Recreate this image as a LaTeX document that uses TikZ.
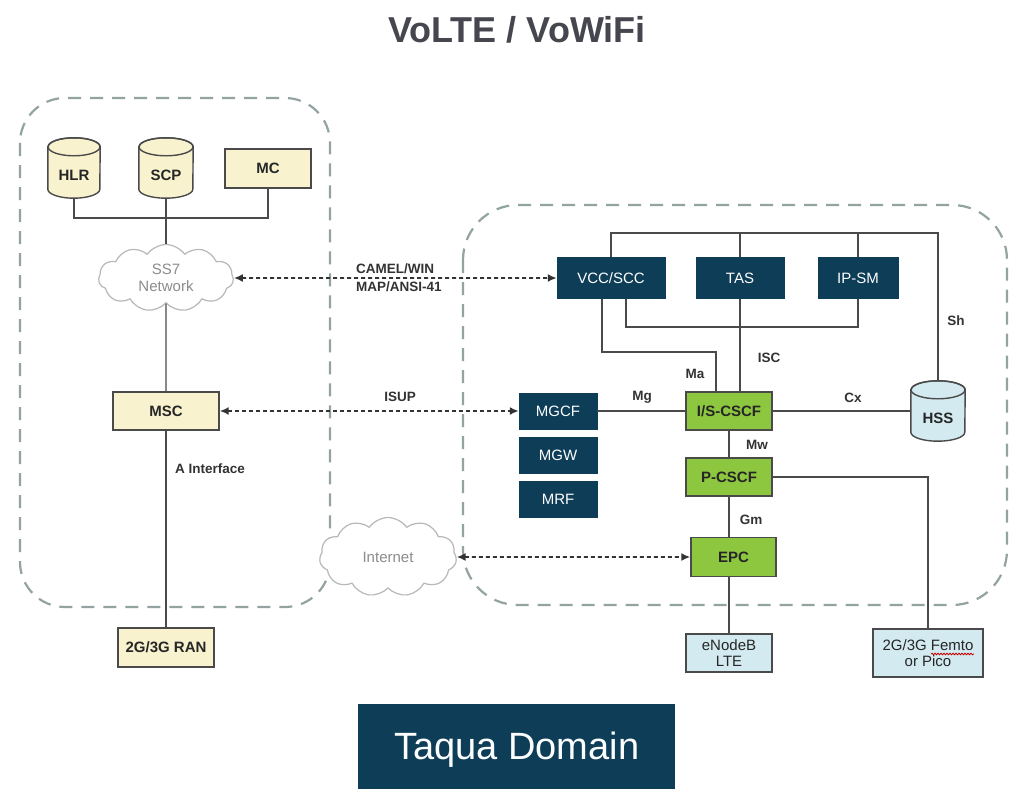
\documentclass[tikz,border=0pt]{standalone}
\usepackage{fontspec}
\setmainfont{Liberation Sans}
\usetikzlibrary{shapes.symbols,arrows.meta,decorations.pathmorphing}
\definecolor{tqteal}{HTML}{0E3D57}
\definecolor{tqyellow}{HTML}{F8F3CE}
\definecolor{tqgreen}{HTML}{8DC63F}
\definecolor{tqblue}{HTML}{D3EAF0}
\definecolor{dashcol}{HTML}{93A3A1}
\definecolor{linecol}{HTML}{4A4A4A}
\definecolor{titlecol}{HTML}{46464F}
\definecolor{cloudcol}{HTML}{B8B8B8}
\definecolor{cloudtext}{HTML}{8C8C8C}
\definecolor{labcol}{HTML}{333333}
\newcommand\tqcyl[5]{%
  \node[minimum width=#3pt, minimum height=60pt, inner sep=0pt, draw=none] (#1) at #2 {};
  \draw[cylline, fill=#4] ([yshift=-9pt]#1.north west) -- ([yshift=9pt]#1.south west)
     arc[start angle=180,end angle=360,x radius=#3pt/2,y radius=9pt]
     -- ([yshift=-9pt]#1.north east)
     arc[start angle=0,end angle=180,x radius=#3pt/2,y radius=9pt] -- cycle;
  \draw[cylline] ([yshift=-9pt]#1.north) circle[x radius=#3pt/2, y radius=9pt];
  \node[boldtxt] (#1-t) at ([yshift=-7pt]#1.center) {#5};
}
\begin{document}
\begin{tikzpicture}[x=1pt,y=-1pt,
  boldtxt/.style={font=\bfseries\fontsize{15}{17}\selectfont, text=black!85},
  cylline/.style={draw=linecol, line width=1.4pt},
  ybox/.style={draw=linecol, line width=1.4pt, fill=tqyellow, inner sep=0pt, font=\bfseries\fontsize{15}{17}\selectfont, text=black!85},
  tbox/.style={draw=tqteal, fill=tqteal, inner sep=0pt, font=\fontsize{15}{17}\selectfont, text=white},
  gbox/.style={draw=linecol, line width=1.4pt, fill=tqgreen, inner sep=0pt, font=\bfseries\fontsize{15}{17}\selectfont, text=black!85},
  bbox/.style={draw=linecol, line width=1.4pt, fill=tqblue, inner sep=0pt, align=center, font=\fontsize{15}{16.5}\selectfont, text=black!85},
  conn/.style={draw=linecol, line width=1.4pt},
  darr/.style={draw=labcol, line width=1.8pt, dash pattern=on 4pt off 3pt, {Latex[length=9pt,width=8pt]}-{Latex[length=9pt,width=8pt]}},
  lab/.style={font=\bfseries\fontsize{13.5}{15}\selectfont, text=labcol, inner sep=0pt},
  dom/.style={draw=dashcol, line width=2.2pt, dash pattern=on 13pt off 9pt},
  cloudn/.style={cloud, cloud puffs=11, cloud puff arc=110, draw=cloudcol, fill=white, line width=1.2pt, inner sep=0pt, text=cloudtext, align=center, font=\fontsize{15}{17}\selectfont}
]
\useasboundingbox (0,0) rectangle (1009,789);
\fill[white] (0,0) rectangle (1009,789);

% title
\node[font=\bfseries\fontsize{36}{40}\selectfont, text=titlecol] (title) at (517,30) {VoLTE / VoWiFi};

% domains
\draw[dom, rounded corners=45pt] (20,98) rectangle (330,607);
\draw[dom, rounded corners=55pt] (463,205) rectangle (1007,605);

% bus coordinates
\coordinate (bus1) at (0,218);
\coordinate (bus2) at (0,233);
\coordinate (bus3) at (0,327);
\coordinate (bus4) at (0,352);

% left domain
\tqcyl{hlr}{(74,168)}{52}{tqyellow}{HLR}
\tqcyl{scp}{(166,168)}{54}{tqyellow}{SCP}
\node[ybox, minimum width=86pt, minimum height=39pt] (mc) at (268,168.5) {MC};
\node[cloudn, aspect=2, minimum width=135pt, minimum height=67pt] (ss7) at (166,278) {SS7\\Network};
\node[ybox, minimum width=106pt, minimum height=38pt] (msc) at (166,411) {MSC};
\node[ybox, minimum width=96pt, minimum height=39pt] (ran) at (166,647.5) {2G/3G RAN};

% right domain
\node[tbox, minimum width=108pt, minimum height=41pt] (vcc) at (611,278) {VCC/SCC};
\node[tbox, minimum width=88pt, minimum height=41pt] (tas) at (740,278) {TAS};
\node[tbox, minimum width=80pt, minimum height=41pt] (ipsm) at (858,278) {IP-SM};
\node[gbox, minimum width=86pt, minimum height=38pt] (iscscf) at (729,411) {I/S-CSCF};
\tqcyl{hss}{(938,411)}{54}{tqblue}{HSS}
\node[tbox, minimum width=78pt, minimum height=36pt] (mgcf) at (558,411) {MGCF};
\node[tbox, minimum width=78pt, minimum height=36pt] (mgw) at (558,455) {MGW};
\node[tbox, minimum width=78pt, minimum height=36pt] (mrf) at (558,499) {MRF};
\node[gbox, minimum width=86pt, minimum height=38pt] (pcscf) at (729,477) {P-CSCF};
\node[gbox, minimum width=85pt, minimum height=39pt] (epc) at (733.5,557) {EPC};
\node[cloudn, aspect=1.7, minimum width=137pt, minimum height=79pt] (inet) at (388,557) {Internet};
\node[bbox, minimum width=86pt, minimum height=38pt] (enb) at (729,653) {eNodeB\\LTE};
\node[bbox, minimum width=110pt, minimum height=48pt] (femto) at (928,653) {2G/3G Femto\\or Pico};
\draw[red!80!black, line width=0.8pt, decorate, decoration={snake, amplitude=0.8pt, segment length=3pt}] ([xshift=3pt,yshift=-1pt]femto.center) -- ([xshift=46pt,yshift=-1pt]femto.center);

% Taqua domain
\node[fill=tqteal, minimum width=317pt, minimum height=90pt, inner sep=0pt, anchor=north west, text=white!92!tqblue, font=\fontsize{38}{44}\selectfont] (taqua) at (358,704) {Taqua Domain};

% connectors left
\draw[conn] (hlr.south) -- (hlr.south |- bus1) -- (mc.south |- bus1) -- (mc.south);
\draw[conn] (scp.south) -- (ss7.north);
\draw[conn] (ss7.south) -- (msc.north);
\draw[conn] (msc.south) -- (ran.north);

% dotted arrows
\draw[darr] (ss7.east) -- (vcc.west);
\draw[darr] (msc.east) -- (mgcf.west);
\draw[darr] (inet.east) -- (epc.west);

% connectors right
\draw[conn] (vcc.north) -- (vcc.north |- bus2) -- (hss.north |- bus2) -- (hss.north);
\draw[conn] (tas.north) -- (tas.north |- bus2);
\draw[conn] (ipsm.north) -- (ipsm.north |- bus2);
\draw[conn] (tas.south) -- (tas.south |- iscscf.north);
\draw[conn] ([xshift=15pt]vcc.south) |- (ipsm.south |- bus3) -- (ipsm.south);
\draw[conn] ([xshift=-9pt]vcc.south) |- ([xshift=-13pt]iscscf.north |- bus4) -- ([xshift=-13pt]iscscf.north);
\draw[conn] (iscscf.east) -- (hss.west);
\draw[conn] (mgcf.east) -- (iscscf.west);
\draw[conn] (iscscf.south) -- (pcscf.north);
\draw[conn] (pcscf.east) -| (femto.north);
\draw[conn] (pcscf.south) -- (pcscf.south |- epc.north);
\draw[conn] (enb.north) -- (enb.north |- epc.south);

% labels
\node[lab, anchor=west] (lcamel) at (356,268.5) {CAMEL/WIN};
\node[lab, anchor=west] (lmap) at (356,287) {MAP/ANSI-41};
\node[lab] (lisup) at (400,397) {ISUP};
\node[lab, anchor=west] (laif) at (175,469) {A Interface};
\node[lab] (lmg) at (642,397) {Mg};
\node[lab] (lma) at (695,374) {Ma};
\node[lab] (lisc) at (769,358) {ISC};
\node[lab] (lsh) at (956,321) {Sh};
\node[lab] (lcx) at (853,398) {Cx};
\node[lab] (lmw) at (757,445) {Mw};
\node[lab] (lgm) at (751,520) {Gm};
\end{tikzpicture}
\end{document}
